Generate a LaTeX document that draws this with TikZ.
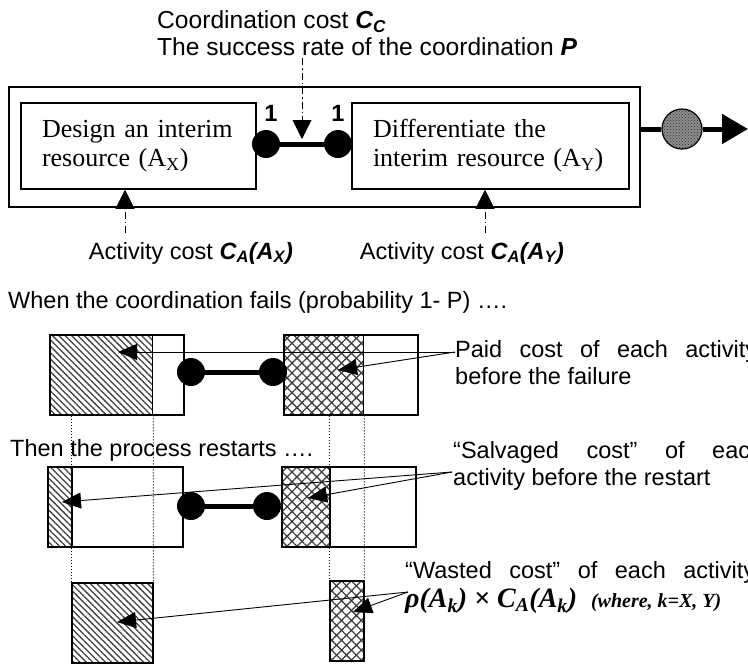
\documentclass[tikz,border=0pt]{standalone}
\usepackage{fontspec}
\setmainfont{Liberation Sans}
\newfontfamily\serifbox{Liberation Serif}
\usetikzlibrary{arrows.meta,positioning,patterns,patterns.meta,calc}
\tikzset{
  lab/.style={font=\fontsize{23.5}{27}\selectfont, inner sep=0pt},
  procbox/.style={draw, line width=1.5pt, inner sep=0pt},
  actbox/.style={draw, line width=1.5pt, inner sep=0pt, align=left, minimum height=86pt, font=\serifbox\fontsize{26}{29}\selectfont},
  stagebox/.style={draw, line width=2pt, minimum width=134pt, minimum height=80pt, inner sep=0pt},
  joint/.style={circle, fill=black, minimum size=28pt, inner sep=0pt},
  bond/.style={line width=5pt},
  hatchx/.style={draw, line width=1.5pt, inner sep=0pt, minimum height=80pt, pattern={Lines[angle=-45,distance=4.5pt,line width=1.3pt]}, pattern color=black!75},
  hatchy/.style={draw, line width=1.5pt, inner sep=0pt, minimum height=80pt, pattern={Hatch[angle=45,distance=7pt,line width=1.3pt]}, pattern color=black!75},
  costarrow/.style={dash pattern=on 7pt off 3pt on 1.5pt off 3pt, line width=1pt, -{Triangle[length=19pt,width=19pt]}},
  lead/.style={line width=0.9pt, -{Triangle[length=19pt,width=16pt]}},
  guide/.style={dotted, line width=1pt}
}
\newcommand{\costsym}[1]{\textbf{\textit{#1}}}

\begin{document}
\begin{tikzpicture}[x=1pt,y=-1pt]
\useasboundingbox (0,0) rectangle (748,665);
% the coordinated process
\node[procbox, minimum width=631pt, minimum height=120pt] (proc) at (324.5,147) {};
\node[actbox, minimum width=235pt, text width=193pt] (ax) at (138.5,146) {Design an interim\\resource (A\textsubscript{X})};
\node[actbox, minimum width=277pt, text width=235pt] (ay) at (490.5,146) {Differentiate the\\interim resource (A\textsubscript{Y})};
\node[joint] (jl) at (266,144) {};
\node[joint] (jr) at (338,144) {};
\draw[bond] (jl) -- (jr);
\node[lab] (onel) at (271,113) {\textbf{1}};
\node[lab] (oner) at (338,113) {\textbf{1}};
\node[lab, font=\fontsize{24.6}{27}\selectfont, anchor=west, align=left] (coord) at (157,33) {Coordination cost \costsym{C\textsubscript{C}}\\The success rate of the coordination \costsym{P}};
\coordinate (ccfoot) at (302,58);
\coordinate (cctip) at (302,139);
\draw[costarrow] (ccfoot) -- (cctip);
\node[lab] (cax) at (191,253) {Activity cost \costsym{C\textsubscript{A}(A\textsubscript{X})}};
\node[lab] (cay) at (462,253) {Activity cost \costsym{C\textsubscript{A}(A\textsubscript{Y})}};
\coordinate (caxfoot) at (125,233);
\coordinate (cayfoot) at (485,233);
\draw[costarrow] (caxfoot) -- (caxfoot |- ax.south);
\draw[costarrow] (cayfoot) -- (cayfoot |- ay.south);
% output
\node[circle, draw, line width=1.2pt, preaction={fill=black!45}, pattern=crosshatch dots, pattern color=black!80, minimum size=40pt, inner sep=0pt] (done) at (682,129) {};
\coordinate (exit) at (748,129);
\draw[line width=5pt] (proc.east |- done) -- (done);
\draw[line width=5pt, -{Triangle[length=26pt,width=29pt]}] (done) -- (exit);

% failure
\node[lab, anchor=west] (fails) at (8,302) {When the coordination fails (probability 1- P) ….};
\node[hatchx, minimum width=103pt, anchor=north west] (fxpaid) at (49,334) {};
\node[stagebox, anchor=north west] (fx) at (49,334) {};
\node[hatchy, minimum width=80pt, anchor=north west] (fypaid) at (283,334) {};
\node[stagebox, anchor=north west] (fy) at (283,334) {};
\node[joint] (fjl) at (191,372) {};
\node[joint] (fjr) at (273,372) {};
\draw[bond] (fjl) -- (fjr);
\node[lab, anchor=north west, align=left] (paid) at (455,340) {\makebox[302pt][s]{Paid cost of each activity}\\before the failure};
\coordinate (paidpt) at (455,352);
\coordinate (paidx) at (118,352);
\coordinate (paidy) at (338,370);
\draw[lead] (paidpt) -- (paidx);
\draw[lead] (paidpt) -- (paidy);

% restart
\node[lab, anchor=west] (restarts) at (10,450) {Then the process restarts ….};
\node[hatchx, minimum width=24pt, anchor=north west] (rxkeep) at (47,466) {};
\node[stagebox, minimum width=135pt, anchor=north west] (rx) at (47,466) {};
\node[hatchy, minimum width=48pt, anchor=north west] (rykeep) at (281,466) {};
\node[stagebox, anchor=north west] (ry) at (281,466) {};
\node[joint] (rjl) at (191,506) {};
\node[joint] (rjr) at (267,506) {};
\draw[bond] (rjl) -- (rjr);
\node[lab, anchor=north west, align=left] (salv) at (453,441) {\makebox[310pt][s]{“Salvaged cost” of each}\\activity before the restart};
\coordinate (salvpt) at (452,472);
\coordinate (salvx) at (62,502);
\coordinate (salvy) at (308,498);
\draw[lead] (salvpt) -- (salvx);
\draw[lead] (salvpt) -- (salvy);

% wasted
\node[hatchx, minimum width=81pt, anchor=north west] (wx) at (71,582) {};
\node[hatchy, minimum width=34pt, anchor=north west] (wy) at (329,580) {};
\draw[guide] (wx.north west |- fx.south) -- (wx.north west);
\draw[guide] (fxpaid.south east) -- (wx.north east);
\draw[guide] (wy.north west |- fy.south) -- (wy.north west);
\draw[guide] (fypaid.south east) -- (wy.north east);
\node[lab, anchor=north west, align=left] (waste) at (405,561) {\makebox[350pt][s]{“Wasted cost” of each activity}\\[2pt]{\serifbox\bfseries\itshape\fontsize{28}{28}\selectfont ρ(A\textsubscript{k}) × C\textsubscript{A}(A\textsubscript{k})\enspace{\fontsize{20}{20}\selectfont (where, k=X, Y)}}};
\coordinate (wastept) at (408,592);
\coordinate (wastex) at (117,622);
\coordinate (wastey) at (353,612);
\draw[lead] (wastept) -- (wastex);
\draw[lead] (wastept) -- (wastey);
\end{tikzpicture}
\end{document}
